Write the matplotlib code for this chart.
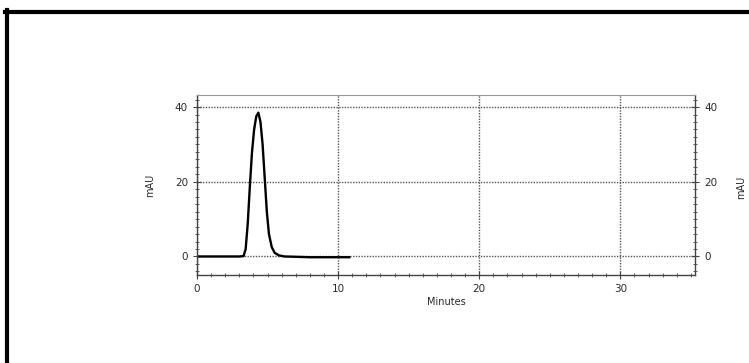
import numpy as np
import matplotlib.pyplot as plt
from matplotlib.lines import Line2D

# chromatogram trace
minutes = [0, 1, 2, 3, 3.3, 3.45, 3.6, 3.75, 3.9, 4.05, 4.2, 4.35, 4.5, 4.65, 4.8, 4.95, 5.1, 5.3, 5.5, 5.8, 6.2, 8, 10.8]
mau = [0, 0, 0, 0, 0.1, 2, 9, 19, 28, 34, 37.5, 38.5, 36, 30, 21, 12, 6, 2.5, 1, 0.3, 0, -0.2, -0.2]

x_ticks = [0, 10, 20, 30]
y_ticks = [0, 20, 40]
x_label = "Minutes"
y_label = "mAU"

ink = '#2a2a2a'

fig = plt.figure(figsize=(7.49, 3.63), dpi=100)
ax = fig.add_axes([0.263, 0.242, 0.665, 0.496])

ax.plot(minutes, mau, color='black', lw=1.7)

ax.set_xlim(0, 35.3)
ax.set_ylim(-5, 43.2)
ax.set_xticks(x_ticks)
ax.set_yticks(y_ticks)
ax.set_xticks(np.arange(0, 36, 1), minor=True)
ax.set_yticks(np.arange(-4, 43, 2), minor=True)
ax.grid(True, which='major', ls=(0, (1, 1)), color='#555555', lw=1.0)

for side in ['left', 'right', 'bottom']:
    ax.spines[side].set_color('#444444')
    ax.spines[side].set_linewidth(1.0)
ax.spines['top'].set_color('#999999')
ax.spines['top'].set_linewidth(0.8)

ax.tick_params(which='both', direction='inout', colors='#444444', labelcolor=ink,
               labelsize=7.5, right=True, labelright=True, top=False)
ax.tick_params(which='major', length=6)
ax.tick_params(which='minor', length=3)

ax.set_xlabel(x_label, fontsize=7, color=ink, labelpad=2)
ax.set_ylabel(y_label, fontsize=7, color=ink, labelpad=14)
# right-hand unit label sits at the very edge of the scan
fig.text(736 / 749, 1 - 187 / 363, y_label, fontsize=7, color=ink, rotation=90,
         ha='left', va='center')

# black scan frame (left and top edges)
fig.add_artist(Line2D([6.5 / 749, 6.5 / 749], [0, 1 - 10 / 363], transform=fig.transFigure,
                      color='black', lw=3))
fig.add_artist(Line2D([5 / 749, 1], [1 - 11.5 / 363, 1 - 11.5 / 363], transform=fig.transFigure,
                      color='black', lw=3))

fig.savefig('out.png', dpi=100)
